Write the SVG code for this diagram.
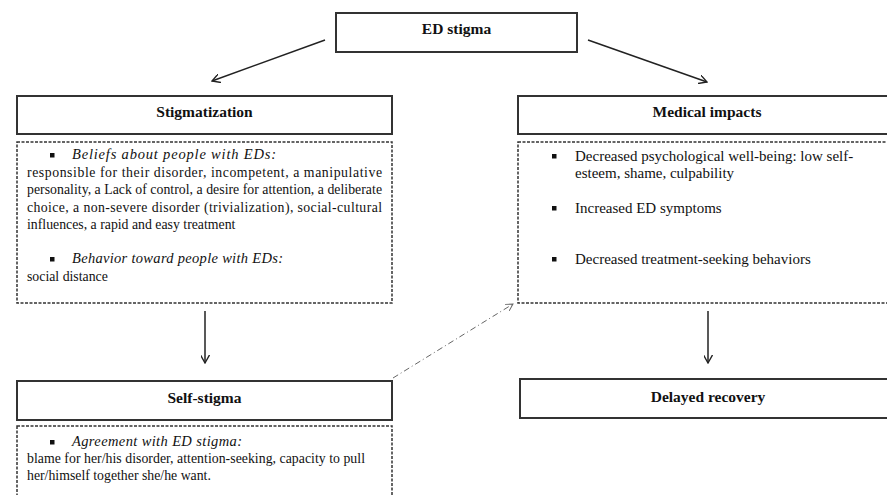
<svg xmlns="http://www.w3.org/2000/svg" width="887" height="495" viewBox="0 0 887 495">
<defs>
<style>
.hdr{fill:#fff;stroke:#333;stroke-width:2}
.dash{fill:#fff;stroke:#333;stroke-width:1.5;stroke-dasharray:3 1.5}
text{font-family:"Liberation Serif","DejaVu Serif",serif;fill:#111}
.h{font-size:15.5px;font-weight:bold;text-anchor:middle}
.t{font-size:13.8px}
.r{font-size:15px}
.i{font-size:14.5px;font-style:italic}
.conn{stroke:#222;stroke-width:1.5;fill:none}
.dd{stroke:#666;stroke-width:1;fill:none;stroke-dasharray:6 3 1 3}
</style>
<marker id="ah" viewBox="0 0 10 10" refX="9" refY="5" markerWidth="9" markerHeight="9" markerUnits="userSpaceOnUse" orient="auto"><path d="M0,0 L9,5 L0,10" fill="none" stroke="#222" stroke-width="1.5"/></marker>
<marker id="ah2" viewBox="0 0 10 10" refX="9" refY="5" markerWidth="8" markerHeight="8" markerUnits="userSpaceOnUse" orient="auto"><path d="M0,0 L9,5 L0,10" fill="none" stroke="#666" stroke-width="1.2"/></marker>
</defs>
<rect width="887" height="495" fill="#fff"/>
<g id="connectors">
<line class="conn" x1="325" y1="40" x2="212" y2="81" marker-end="url(#ah)"/>
<line class="conn" x1="588" y1="40" x2="707" y2="82" marker-end="url(#ah)"/>
<line class="conn" x1="205" y1="311" x2="205" y2="363" marker-end="url(#ah)"/>
<line class="conn" x1="708" y1="311" x2="708" y2="363" marker-end="url(#ah)"/>
<line class="dd" x1="393" y1="378" x2="513" y2="304" marker-end="url(#ah2)"/>
</g>
<g font-family="Liberation Serif, DejaVu Serif, serif">
<g id="ed-stigma">
<rect class="hdr" x="336" y="13" width="241" height="39"/>
<text class="h" x="456.5" y="34">ED stigma</text>
</g>
<g id="stigmatization">
<rect class="hdr" x="17" y="96" width="375" height="38"/>
<text class="h" x="204.5" y="117">Stigmatization</text>
</g>
<g id="stigmatization-details">
<rect class="dash" x="17" y="142" width="375" height="161"/>
<rect x="50" y="153" width="4.5" height="4.5" fill="#111"/>
<text class="i" x="72" y="159" textLength="204" lengthAdjust="spacing">Beliefs about people with EDs:</text>
<text class="t" x="27" y="177" textLength="355" lengthAdjust="spacing">responsible for their disorder, incompetent, a manipulative</text>
<text class="t" x="27" y="194" textLength="355" lengthAdjust="spacing">personality, a Lack of control, a desire for attention, a deliberate</text>
<text class="t" x="27" y="212" textLength="355" lengthAdjust="spacing">choice, a non-severe disorder (trivialization), social-cultural</text>
<text class="t" x="27" y="229">influences, a rapid and easy treatment</text>
<rect x="50" y="257" width="4.5" height="4.5" fill="#111"/>
<text class="i" x="72" y="263" textLength="211" lengthAdjust="spacing">Behavior toward people with EDs:</text>
<text class="t" x="27" y="281">social distance</text>
</g>
<g id="medical-impacts">
<rect class="hdr" x="518" y="96" width="375" height="38"/>
<text class="h" x="707" y="117">Medical impacts</text>
</g>
<g id="medical-details">
<rect class="dash" x="518" y="142" width="375" height="161"/>
<rect x="552" y="154" width="4.5" height="4.5" fill="#111"/>
<text class="r" x="575" y="161">Decreased psychological well-being: low self-</text>
<text class="r" x="575" y="178">esteem, shame, culpability</text>
<rect x="552" y="206" width="4.5" height="4.5" fill="#111"/>
<text class="r" x="575" y="213">Increased ED symptoms</text>
<rect x="552" y="257" width="4.5" height="4.5" fill="#111"/>
<text class="r" x="575" y="264">Decreased treatment-seeking behaviors</text>
</g>
<g id="self-stigma">
<rect class="hdr" x="17" y="381" width="375" height="39"/>
<text class="h" x="204.5" y="403">Self-stigma</text>
</g>
<g id="self-stigma-details">
<rect class="dash" x="17" y="426" width="375" height="90"/>
<rect x="50" y="440" width="4.5" height="4.5" fill="#111"/>
<text class="i" x="72" y="446" textLength="170" lengthAdjust="spacing">Agreement with ED stigma:</text>
<text class="t" x="27" y="463" textLength="338" lengthAdjust="spacing">blame for her/his disorder, attention-seeking, capacity to pull</text>
<text class="t" x="27" y="480">her/himself together she/he want.</text>
</g>
<g id="delayed-recovery">
<rect class="hdr" x="520" y="379" width="375" height="39"/>
<text class="h" x="708" y="402">Delayed recovery</text>
</g>
</g>
</svg>
